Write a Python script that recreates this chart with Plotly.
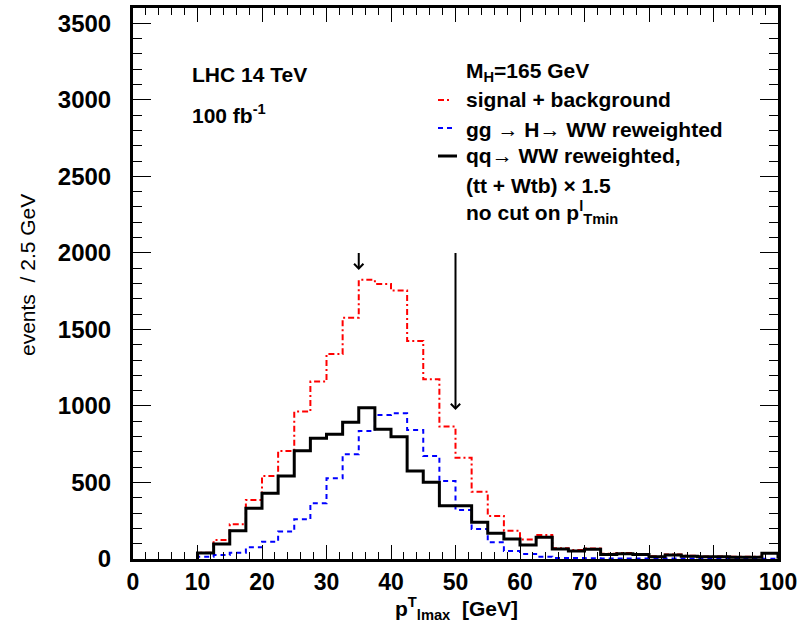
import plotly.graph_objects as go

# ---------------- data ----------------
bin_width = 2.5
first_edge = 10.0
# qq -> WW reweighted, (tt + Wtb) x 1.5  (black)
background = [40, 98, 185, 331, 430, 543, 708, 789, 815, 893,
              989, 848, 799, 575, 501, 348, 348, 240, 168, 131,
              92, 142, 65, 52, 63, 30, 35, 30, 15, 26,
              18, 15, 15, 12, 12, 37, 12, 10]
# gg -> H -> WW reweighted (blue)
signal = [15, 26, 41, 76, 113, 179, 259, 364, 527, 684,
          837, 941, 952, 843, 673, 510, 320, 196, 109, 52,
          33, 15, 6, 6, 5, 4, 4, 3, 3, 3,
          3, 2, 2, 2, 2, 2, 2, 2]
# signal + background (red)
sig_plus_bkg = [41, 124, 227, 386, 543, 706, 963, 1159, 1340, 1577,
                1824, 1797, 1754, 1425, 1174, 865, 662, 440, 281, 185,
                128, 157, 70, 59, 68, 34, 39, 33, 18, 29,
                21, 17, 17, 14, 14, 39, 14, 12]
cut_arrows = [(35.0, 2065, 1889), (50.0, 2065, 974)]  # x, tail, head

x_range = [0, 100]
y_range = [0, 3600]

FONT = "Liberation Sans, Arial, Helvetica, sans-serif"

W, H = 797, 627
L, R, T, B = 133, 19, 8, 68
PW, PH = W - L - R, H - T - B


def px(xp):
    return (xp - L) / PW


def py(yp):
    return (H - B - yp) / PH


def step_xy(vals):
    edges = [first_edge + i * bin_width for i in range(len(vals) + 1)]
    xs = [edges[0]] + edges[:-1] + [edges[-1]]
    ys = [0] + list(vals) + [vals[-1]]
    return xs, ys


fig = go.Figure()

for vals, color, width, dash in [
    (sig_plus_bkg, "#ff0000", 2, "6px,3px,2px,3px"),
    (signal, "#0000ff", 2, "5px,4px"),
    (background, "#000000", 3, "solid"),
]:
    xs, ys = step_xy(vals)
    fig.add_trace(go.Scatter(x=xs, y=ys, mode="lines",
                             line=dict(color=color, width=width, dash=dash, shape="hv"),
                             showlegend=False, hoverinfo="skip"))

annotations = []
for xa, tail, head in cut_arrows:
    annotations.append(dict(x=xa, y=head, ax=xa, ay=tail, xref="x", yref="y",
                            axref="x", ayref="y", showarrow=True, arrowhead=4,
                            arrowsize=0.9, arrowwidth=2, arrowcolor="black", text=" "))


def txt(s, xpix, ypix, size=21, anchor="left", bold=True, angle=0):
    annotations.append(dict(text=s, x=px(xpix), y=py(ypix), xref="paper", yref="paper",
                            xanchor=anchor, yanchor="middle", showarrow=False,
                            textangle=angle,
                            font=dict(family=FONT, size=size, color="black",
                                      weight="bold" if bold else "normal")))


txt("LHC 14 TeV", 190, 75)
txt("100 fb<sup>-1</sup>", 190, 114)
txt("M<sub>H</sub>=165 GeV", 464, 72)
txt("signal + background", 464, 100)
txt("gg \u2192 H\u2192 WW reweighted", 464, 129)
txt("qq\u2192 WW reweighted,", 464, 156)
txt("(tt + Wtb) \u00d7 1.5", 464, 185)
txt("no cut on p<sup>l</sup><sub>Tmin</sub>", 464, 212)
txt("p<sup>T</sup><sub>lmax</sub>\u00a0\u00a0[GeV]", 456, 608, size=21, anchor="center")
txt("events\u00a0\u00a0/ 2.5 GeV", 27, 275, size=21, anchor="center", bold=False, angle=-90)

shapes = []
for color, width, dash, ypix, x1 in [
    ("#ff0000", 2, "6px,3px,2px,3px", 100, 452),
    ("#0000ff", 2, "5px,4px", 128, 452),
    ("#000000", 3, "solid", 156, 457),
]:
    shapes.append(dict(type="line", xref="paper", yref="paper",
                       x0=px(438), x1=px(x1), y0=py(ypix), y1=py(ypix),
                       line=dict(color=color, width=width, dash=dash)))

axis_common = dict(showline=True, linecolor="black", linewidth=3, mirror="ticks",
                   ticks="inside", tickcolor="black", tickwidth=1, automargin=False,
                   showgrid=False, zeroline=False, ticklabeloverflow="allow")

fig.update_layout(
    width=W, height=H,
    margin=dict(l=L, r=R, t=T, b=B, pad=0, autoexpand=False),
    paper_bgcolor="white", plot_bgcolor="white",
    xaxis=dict(range=x_range, dtick=10, tick0=0, ticklen=14, ticklabelstandoff=0,
               tickfont=dict(family=FONT, size=23, color="black", weight="bold"),
               minor=dict(dtick=2, ticklen=7, ticks="inside", tickcolor="black", tickwidth=1),
               **axis_common),
    yaxis=dict(range=y_range, dtick=500, tick0=0, ticklen=18, ticklabelstandoff=14,
               tickfont=dict(family=FONT, size=24, color="black", weight="bold"),
               minor=dict(dtick=100, ticklen=9, ticks="inside", tickcolor="black", tickwidth=1),
               **axis_common),
    annotations=annotations,
    shapes=shapes,
)

fig.write_html("out.html")
